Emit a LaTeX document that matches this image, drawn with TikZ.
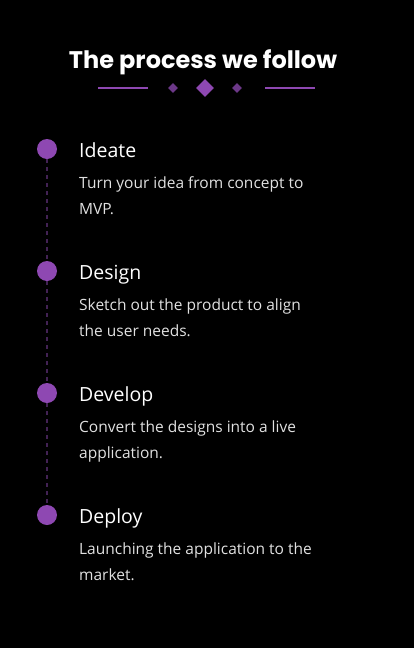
\documentclass[tikz,border=0pt]{standalone}
\usepackage{fontspec}
\setmainfont{Poppins}
\newfontfamily\bodyfont{Open Sans}
\definecolor{bg}{RGB}{0,0,0}
\definecolor{purp}{RGB}{142,72,178}
\definecolor{dpurp}{RGB}{108,56,136}
\definecolor{dash}{RGB}{66,34,84}
\definecolor{bodytxt}{RGB}{225,225,225}
\usetikzlibrary{shapes.geometric}
\tikzset{
  dot/.style={circle,fill=purp,minimum size=20pt,inner sep=0pt},
  head/.style={anchor=base west,inner sep=0pt,text=white,font=\bodyfont\fontsize{19.5}{24}\selectfont},
  body/.style={anchor=base west,inner sep=0pt,text=bodytxt,font=\bodyfont\fontsize{15.5}{26}\selectfont,align=left},
  link/.style={draw=dash,line width=2pt,dash pattern=on 4pt off 4pt},
  dia/.style={diamond,inner sep=0pt,fill=dpurp,minimum size=10pt},
}
\begin{document}
\begin{tikzpicture}[x=1pt,y=-1pt]
\fill[bg] (0,0) rectangle (414,648);
\useasboundingbox (0,0) rectangle (414,648);
\node[anchor=base,inner sep=0pt,text=white,font=\bfseries\fontsize{24}{28}\selectfont] (title) at (203,68) {The process we follow};
\coordinate (l1) at (98,88); \coordinate (l2) at (148,88);
\coordinate (r1) at (265,88); \coordinate (r2) at (315,88);
\draw[purp,line width=2pt] (l1) -- (l2);
\draw[purp,line width=2pt] (r1) -- (r2);
\node[dia] (d1) at (173,88) {};
\node[dia,fill=purp,minimum size=18pt] (d2) at (205,88) {};
\node[dia] (d3) at (237,88) {};
\node[dot] (c1) at (47,149) {};
\node[dot] (c2) at (47,271) {};
\node[dot] (c3) at (47,393) {};
\node[dot] (c4) at (47,515) {};
\draw[link] (c1.south) -- (c2.north);
\draw[link] (c2.south) -- (c3.north);
\draw[link] (c3.south) -- (c4.north);
\node[head] (h1) at (79,157) {Ideate};
\node[head] (h2) at (79,279) {Design};
\node[head] (h3) at (79,401) {Develop};
\node[head] (h4) at (79,523) {Deploy};
\node[body] (b1) at (79,214) {Turn your idea from concept to\\MVP.};
\node[body] (b2) at (79,336) {Sketch out the product to align\\the user needs.};
\node[body] (b3) at (79,458) {Convert the designs into a live\\application.};
\node[body] (b4) at (79,580) {Launching the application to the\\market.};
\end{tikzpicture}
\end{document}
